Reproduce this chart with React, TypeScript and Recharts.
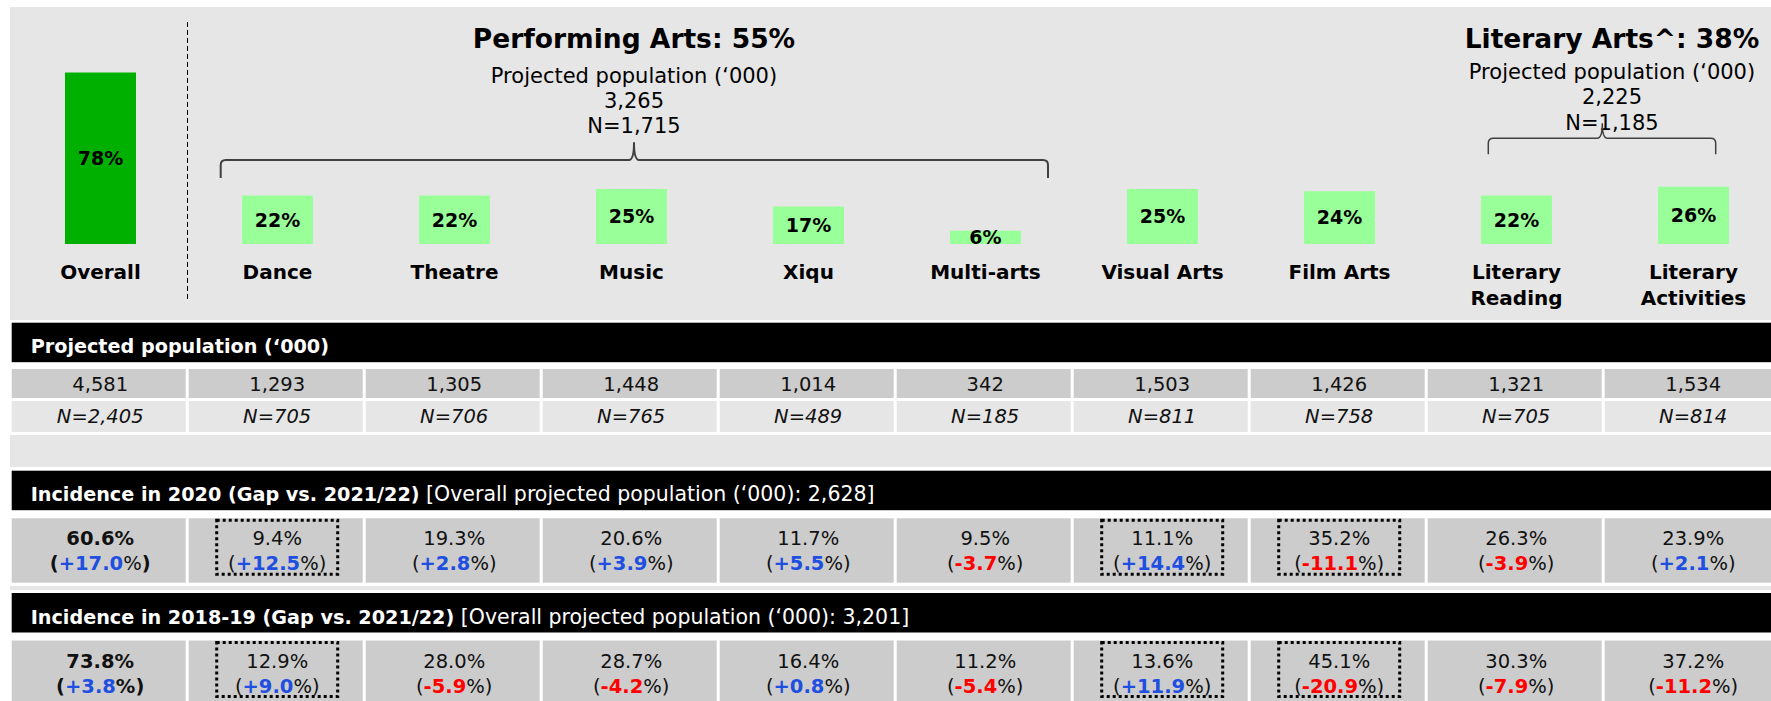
import { BarChart, Bar, XAxis, YAxis, Cell, LabelList } from 'recharts'

document.body.style.margin = '0'

const FONT = '"DejaVu Sans", "Noto Sans", sans-serif'

const categories = ['Overall', 'Dance', 'Theatre', 'Music', 'Xiqu', 'Multi-arts', 'Visual Arts', 'Film Arts', 'Literary Reading', 'Literary Activities']
const incidence2122 = [78, 22, 22, 25, 17, 6, 25, 24, 22, 26]
const projectedPop = [4581, 1293, 1305, 1448, 1014, 342, 1503, 1426, 1321, 1534]
const sampleN = [2405, 705, 706, 765, 489, 185, 811, 758, 705, 814]
const incidence2020 = [60.6, 9.4, 19.3, 20.6, 11.7, 9.5, 11.1, 35.2, 26.3, 23.9]
const gap2020 = [17.0, 12.5, 2.8, 3.9, 5.5, -3.7, 14.4, -11.1, -3.9, 2.1]
const incidence1819 = [73.8, 12.9, 28.0, 28.7, 16.4, 11.2, 13.6, 45.1, 30.3, 37.2]
const gap1819 = [3.8, 9.0, -5.9, -4.2, 0.8, -5.4, 11.9, -20.9, -7.9, -11.2]
const boxed = ['Dance', 'Visual Arts', 'Film Arts']

const performing = { title: 'Performing Arts', pct: 55, pop: 3265, n: 1715 }
const literary = { title: 'Literary Arts^', pct: 38, pop: 2225, n: 1185 }
const overallPop2020 = 2628
const overallPop1819 = 3201

const data = categories.map((name, i) => ({ name, value: incidence2122[i] }))

const fmt = (v: number) => v.toLocaleString('en-US')
const BLUE = '#1f4fe0'
const RED = '#ff0000'

// column geometry (shared by the chart and the table)
const X0 = 11.7
const PITCH = 177
const CELL_W = 174
const colCenter = (i: number) => X0 + PITCH * i + PITCH / 2

function CategoryTick(props: any) {
  const { x, y, payload } = props
  const name: string = payload.value
  const lines = name.startsWith('Literary ') ? name.split(' ') : [name]
  return (
    <text x={x} y={y + 35} textAnchor="middle" fontFamily={FONT} fontWeight={700} fontSize={20} fill="#000">
      {lines.map((l, i) => (
        <tspan key={l} x={x} dy={i === 0 ? 0 : 26}>{l}</tspan>
      ))}
    </text>
  )
}

function Brace({ x1, x2, xm, y, yEnd, yTip, w }: { x1: number; x2: number; xm: number; y: number; yEnd: number; yTip: number; w: number }) {
  const r = 5
  const d = `M${x1},${yEnd} L${x1},${y + r} Q${x1},${y} ${x1 + r},${y} L${xm - 5},${y} Q${xm},${y} ${xm},${yTip} Q${xm},${y} ${xm + 5},${y} L${x2 - r},${y} Q${x2},${y} ${x2},${y + r} L${x2},${yEnd}`
  return <path d={d} fill="none" stroke="#404040" strokeWidth={w} />
}

function GroupHead({ g, cx, top }: { g: typeof performing; cx: number; top: number }) {
  return (
    <g fontFamily={FONT} fill="#000" textAnchor="middle">
      <text x={cx} y={47.7} fontWeight={700} fontSize={26.5}>{`${g.title}: ${g.pct}%`}</text>
      <text x={cx} y={top} fontSize={21}>Projected population (‘000)</text>
      <text x={cx} y={top + 25} fontSize={21}>{fmt(g.pop)}</text>
      <text x={cx} y={top + 50.5} fontSize={21}>{`N=${fmt(g.n)}`}</text>
    </g>
  )
}

function HeaderBar({ y, bold, light }: { y: number; bold: string; light?: string }) {
  return (
    <g>
      <rect x={X0} y={y} width={1771 - X0} height={39.5} fill="#000" />
      <text x={30.7} y={y + 30.5} fill="#fff" fontFamily={FONT}>
        <tspan fontWeight={700} fontSize={19.2}>{bold}</tspan>
        {light ? <tspan fontSize={20.5}>{light}</tspan> : null}
      </text>
    </g>
  )
}

function IncidenceRow({ y, h, vals, gaps, pctBold }: { y: number; h: number; vals: number[]; gaps: number[]; pctBold: boolean }) {
  return (
    <g fontFamily={FONT} fontSize={19.5}>
      {vals.map((v, i) => {
        const cx = colCenter(i)
        const overall = i === 0
        const g = gaps[i]
        const sign = g >= 0 ? '+' : '-'
        const paren = overall ? 700 : 400
        return (
          <g key={i}>
            <rect x={X0 + PITCH * i} y={y} width={CELL_W} height={h} fill="#cccccc" />
            <text x={cx} y={y + 27} textAnchor="middle" fill="#111" fontWeight={overall ? 700 : 400}>{`${v.toFixed(1)}%`}</text>
            <text x={cx} y={y + 52} textAnchor="middle" fill="#111">
              <tspan fontWeight={paren}>(</tspan>
              <tspan fontWeight={700} fill={g >= 0 ? BLUE : RED}>{`${sign}${Math.abs(g).toFixed(1)}`}</tspan>
              <tspan fontWeight={overall && pctBold ? 700 : 400}>%</tspan>
              <tspan fontWeight={paren}>)</tspan>
            </text>
            {boxed.includes(categories[i]) ? (
              <rect x={cx - 60.5} y={y + 2} width={121} height={54} fill="none" stroke="#000" strokeWidth={3} strokeDasharray="3 3" />
            ) : null}
          </g>
        )
      })}
    </g>
  )
}

export default function App() {
  return (
    <div style={{ position: 'relative', width: 1771, height: 701, overflow: 'hidden', background: '#fff' }}>
      <svg width={1771} height={701} style={{ position: 'absolute', left: 0, top: 0 }}>
        <rect x={10} y={7} width={1761} height={313} fill="#e6e6e6" />
      </svg>

      <div style={{ position: 'absolute', left: X0, top: 0 }}>
        <BarChart width={1770} height={320} data={data} margin={{ top: 24, right: 0, bottom: 0, left: 0 }}>
          <XAxis dataKey="name" height={76} interval={0} tickLine={false} axisLine={false} tickSize={0} tickMargin={0} tick={<CategoryTick />} />
          <YAxis hide domain={[0, 100]} />
          <Bar dataKey="value" barSize={71} isAnimationActive={false}>
            {data.map((d, i) => (
              <Cell key={d.name} fill={i === 0 ? '#00b000' : '#99ff99'} />
            ))}
            <LabelList dataKey="value" position="center" formatter={(v: any) => `${v}%`} fill="#000" fontSize={19} fontWeight={700} fontFamily={FONT} />
          </Bar>
        </BarChart>
      </div>

      <svg width={1771} height={701} style={{ position: 'absolute', left: 0, top: 0, pointerEvents: 'none' }}>
        <line x1={187.5} y1={22} x2={187.5} y2={302} stroke="#000" strokeWidth={1} strokeDasharray="5 3" />
        <GroupHead g={performing} cx={634} top={82.7} />
        <GroupHead g={literary} cx={1612} top={79.3} />
        <Brace x1={220.7} x2={1048} xm={634} y={160} yEnd={178} yTip={142.3} w={2} />
        <Brace x1={1488.3} x2={1715.7} xm={1602.3} y={138.3} yEnd={154.3} yTip={123.3} w={1.5} />

        <HeaderBar y={322.7} bold="Projected population (‘000)" />
        <g fontFamily={FONT} fontSize={19.5} fill="#111" textAnchor="middle">
          {projectedPop.map((v, i) => (
            <g key={i}>
              <rect x={X0 + PITCH * i} y={369} width={CELL_W} height={29} fill="#cccccc" />
              <text x={colCenter(i)} y={391}>{fmt(v)}</text>
              <rect x={X0 + PITCH * i} y={401} width={CELL_W} height={31} fill="#e6e6e6" />
              <text x={colCenter(i)} y={423.3} fontStyle="italic">{`N=${fmt(sampleN[i])}`}</text>
            </g>
          ))}
        </g>
        <rect x={10} y={435} width={1761} height={32} fill="#e6e6e6" />

        <HeaderBar y={470.7} bold="Incidence in 2020 (Gap vs. 2021/22)" light={` [Overall projected population (‘000): ${fmt(overallPop2020)}]`} />
        <IncidenceRow y={518.3} h={64.4} vals={incidence2020} gaps={gap2020} pctBold={false} />
        <rect x={10} y={586} width={1761} height={4} fill="#e6e6e6" />

        <HeaderBar y={593} bold="Incidence in 2018-19 (Gap vs. 2021/22)" light={` [Overall projected population (‘000): ${fmt(overallPop1819)}]`} />
        <IncidenceRow y={640.5} h={70} vals={incidence1819} gaps={gap1819} pctBold={true} />
      </svg>
    </div>
  )
}
